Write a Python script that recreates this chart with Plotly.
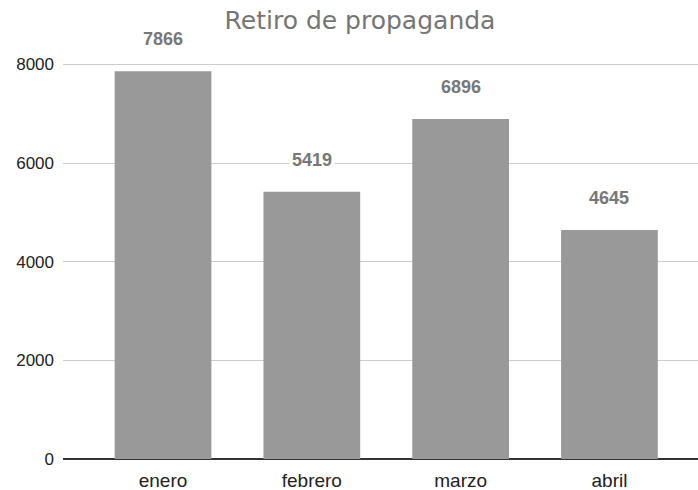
import plotly.graph_objects as go

months = ["enero", "febrero", "marzo", "abril"]
values = [7866, 5419, 6896, 4645]
y_ticks = [0, 2000, 4000, 6000, 8000]

fig = go.Figure(
    go.Bar(
        x=months,
        y=values,
        marker=dict(color="#999999", line=dict(width=0)),
        hoverinfo="x+y",
    )
)

# value labels sitting above each bar, on a white backing over the gridlines
for m, v in zip(months, values):
    fig.add_annotation(
        x=m, y=v, text=f"<b>{v}</b>", showarrow=False,
        yanchor="middle", yshift=32, bgcolor="white", borderpad=2,
        font=dict(family="Liberation Sans, Arial", size=18, color="#777777"),
    )

fig.update_layout(
    width=698, height=490,
    margin=dict(l=63, r=0, t=20, b=31),
    paper_bgcolor="white", plot_bgcolor="white",
    bargap=0.35,
    showlegend=False,
    title=dict(
        text="Retiro de propaganda",
        x=360 / 698, xanchor="center", y=1 - 20 / 490, yanchor="middle",
        font=dict(family="DejaVu Sans", size=25, color="#757575"),
    ),
    xaxis=dict(
        range=[-0.672, 3.595],
        showgrid=False, showline=False, ticks="",
        automargin=False,
        ticklabelstandoff=8,
        tickfont=dict(family="Liberation Sans, Arial", size=19, color="#222222"),
    ),
    yaxis=dict(
        range=[0, 8903],
        tickvals=y_ticks,
        showgrid=True, gridcolor="#cccccc", gridwidth=1,
        zeroline=True, zerolinecolor="#333333", zerolinewidth=2,
        showline=False, ticks="",
        automargin=False,
        ticklabelstandoff=8,
        tickfont=dict(family="Liberation Sans, Arial", size=17, color="#222222"),
    ),
)

fig.write_html("out.html")
